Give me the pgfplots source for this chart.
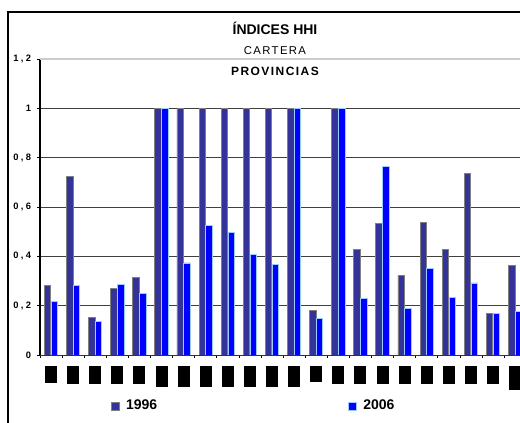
\documentclass[border=0pt]{standalone}
\usepackage{fontspec}
\setmainfont{Liberation Sans}
\newfontfamily\spacedfont[LetterSpace=12]{Liberation Sans}
\newfontfamily\tickfont[LetterSpace=25]{Liberation Sans}
\usepackage{pgfplots}
\usepackage{pgfplotstable}
\pgfplotsset{compat=1.18}
\definecolor{c96}{HTML}{333399}
\definecolor{c06}{HTML}{0000FF}
\definecolor{b96}{HTML}{808080}
\definecolor{b06}{HTML}{99CCFF}
\newcommand\blk[1]{\rule{9pt}{#1pt}}
\pgfplotstableread{
x a b
0 0.28 0.215
1 0.725 0.28
2 0.152 0.135
3 0.27 0.285
4 0.316 0.25
5 1 1
6 1 0.373
7 1 0.525
8 1 0.496
9 1 0.408
10 1 0.368
11 1 1
12 0.182 0.147
13 1 1
14 0.427 0.228
15 0.532 0.766
16 0.322 0.187
17 0.537 0.351
18 0.427 0.233
19 0.737 0.292
20 0.17 0.17
21 0.362 0.175
}\data
\begin{document}
\begin{tikzpicture}
\path[use as bounding box] (0,0) rectangle (390pt,317.25pt);
\clip (0,0) rectangle (390pt,317.25pt);
\draw[black, line width=0.8pt] (6pt,-10pt) rectangle (400pt,308.25pt);
\begin{axis}[
  at={(30pt,51pt)}, anchor=south west, scale only axis,
  width=364.65pt, height=222pt,
  xmin=-0.5, xmax=21.5, ymin=0, ymax=1.2,
  axis x line*=bottom, axis y line*=left,
  x axis line style={draw=black!80, line width=0.6pt},
  y axis line style={draw=black, line width=0.8pt},
  ytick={0,0.2,0.4,0.6,0.8,1,1.2},
  ymajorgrids, major grid style={draw=black!75, line width=0.6pt},
  tick align=outside, major tick length=2.25pt, minor tick length=2.25pt,
  tick style={black, line width=0.5pt},
  xtick={0,...,21},
  major x tick style={draw=none},
  minor xtick={-0.5,0.5,...,21.5},
  xticklabels={\blk{12.75},\blk{13.5},\blk{13.5},\blk{13.5},\blk{13.5},\blk{15.75},\blk{15.75},\blk{15.75},\blk{15.75},\blk{15.75},\blk{15.75},\blk{15.75},\blk{12},\blk{13.5},\blk{13.5},\blk{13.5},\blk{13.5},\blk{13.5},\blk{13.5},\blk{13.5},\blk{13.5},\blk{18}},
  xticklabel style={anchor=north, inner sep=0pt, yshift=-6pt},
  yticklabel style={font=\tickfont\bfseries\fontsize{7}{8}\selectfont, xshift=-1pt},
  /pgf/number format/.cd, use comma, fixed, precision=1, assume math mode=true, /pgfplots/.cd,
  legend style={at={(0.44,-0.172)}, anchor=center, draw=none, fill=none,
    legend columns=2, font=\bfseries\fontsize{10.5}{12}\selectfont,
    /tikz/every odd column/.append style={column sep=3pt},
    /tikz/every even column/.append style={column sep=141pt}},
  legend image code/.code={\draw[#1, line width=0.6pt] (0pt,-3pt) rectangle (6pt,3pt);},
]
\addplot[ybar, bar width=0.294, bar shift=-0.155, fill=c96, draw=b96, line width=0.7pt] table[x=x,y=a]{\data};
\addlegendentry{1996}
\addplot[ybar, bar width=0.294, bar shift=0.155, fill=c06, draw=b06, line width=0.7pt] table[x=x,y=b]{\data};
\addlegendentry{2006}
\draw[black!20, line width=0.8pt] (axis cs:-0.5,1.2) -- (axis cs:21.5,1.2);
\end{axis}
\node[font=\bfseries\fontsize{10.5}{12}\selectfont] at (206.25pt,296.25pt) {ÍNDICES HHI};
\node[font=\spacedfont\fontsize{8.5}{10}\selectfont] at (206.25pt,279.5pt) {CARTERA};
\node[font=\spacedfont\bfseries\fontsize{9}{10}\selectfont] at (206.25pt,264pt) {PROVINCIAS};
\end{tikzpicture}
\end{document}
